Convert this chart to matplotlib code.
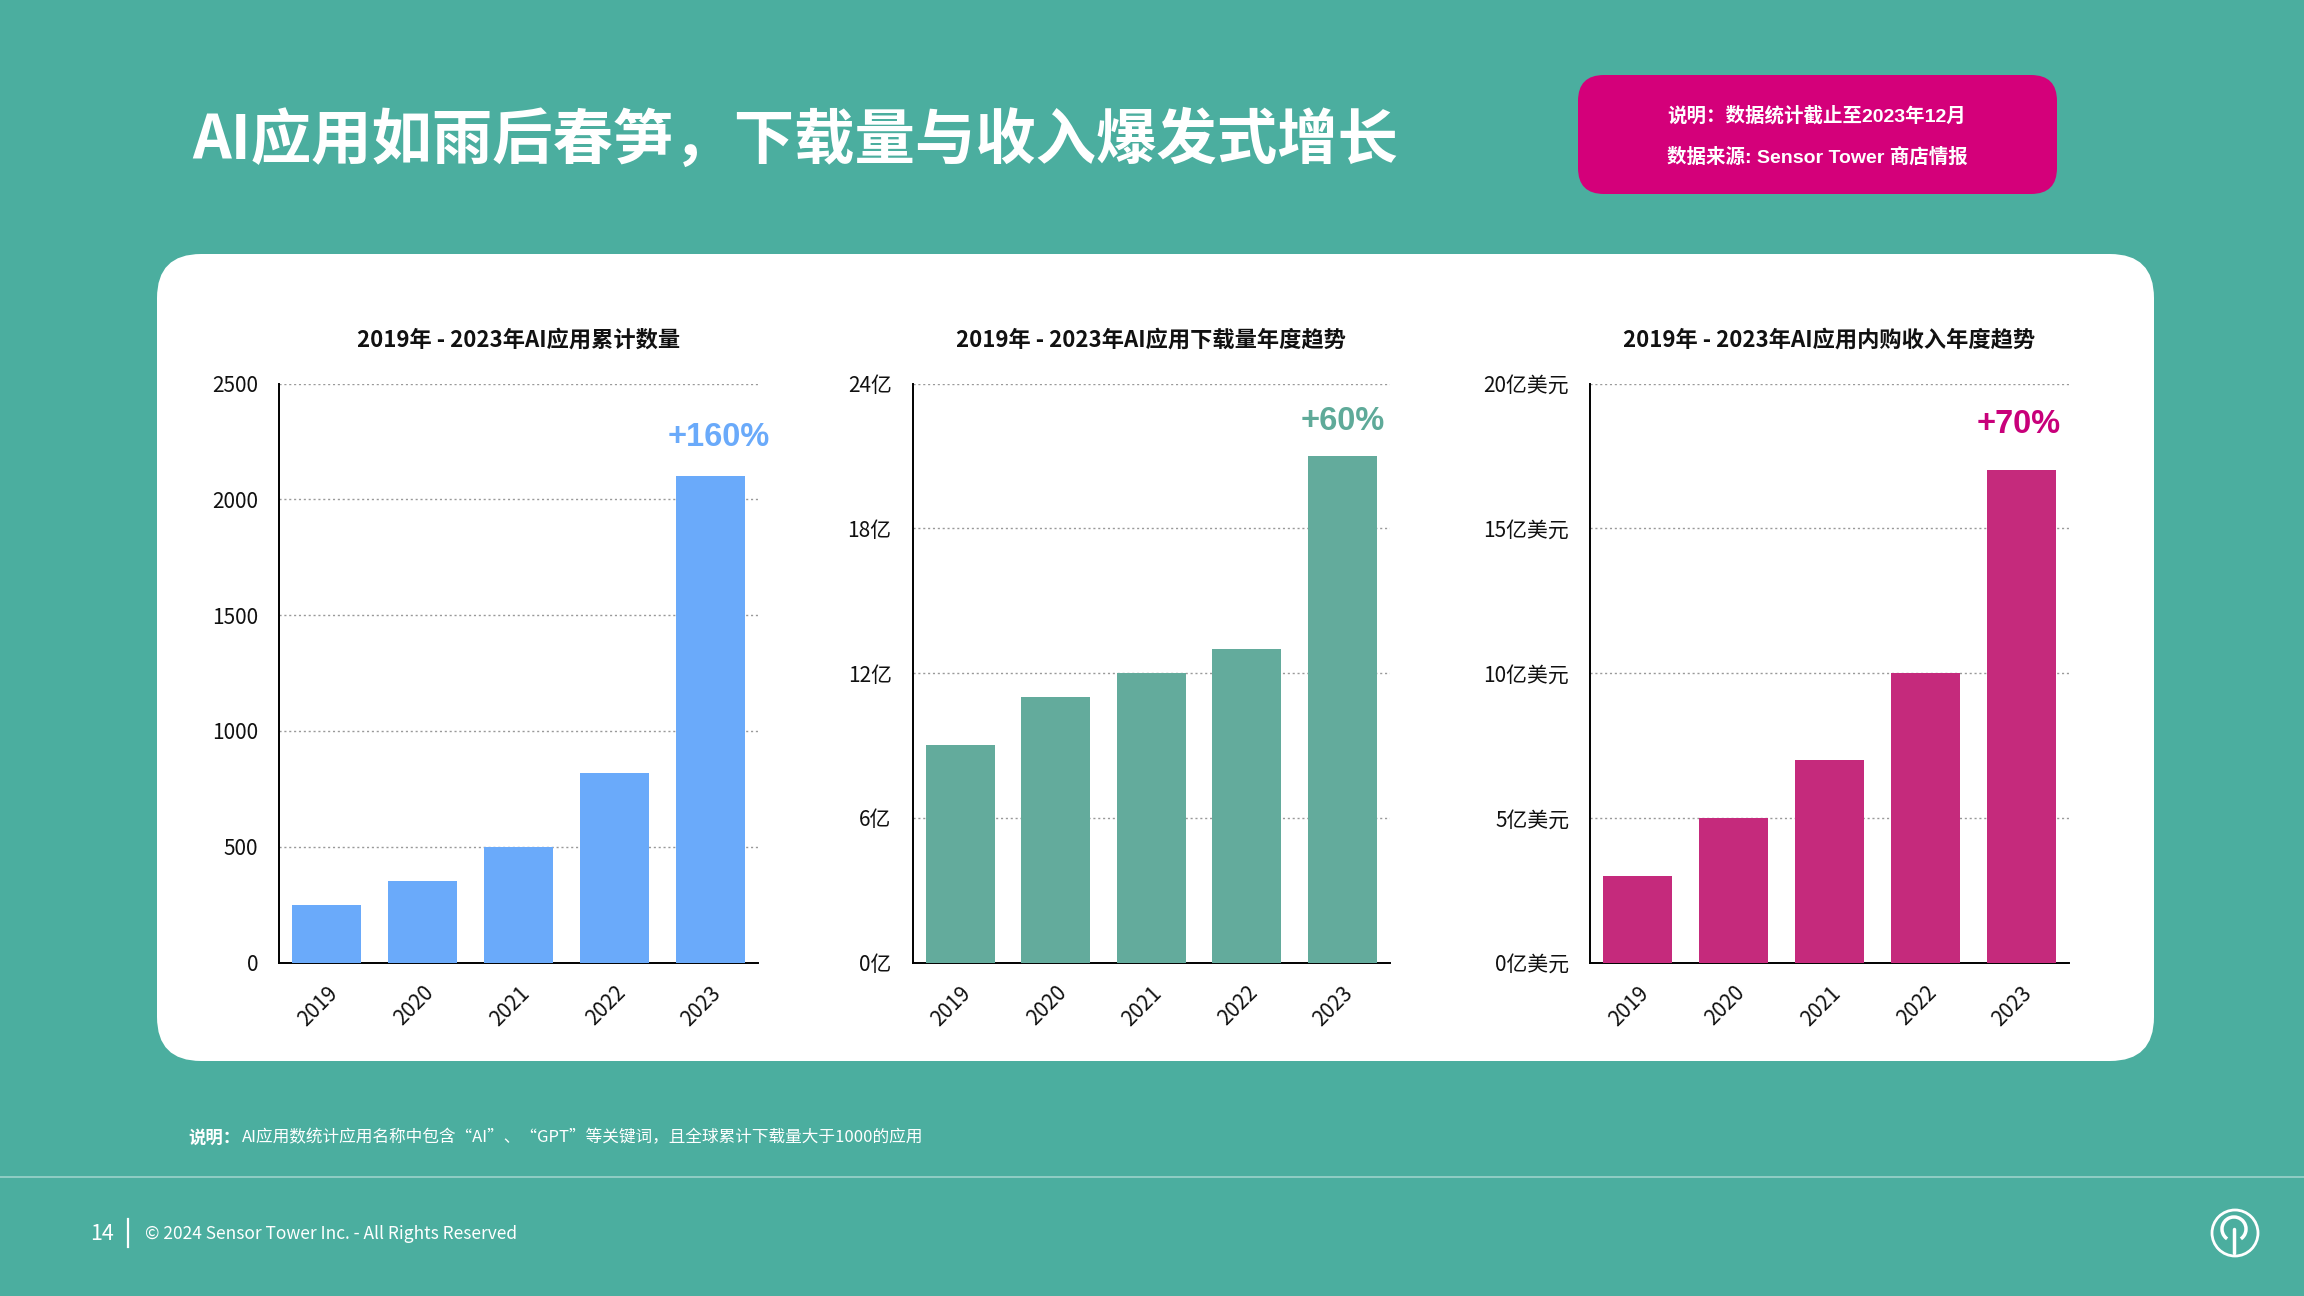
import matplotlib.pyplot as plt
from matplotlib.patches import FancyBboxPatch, Circle, Arc

plt.rcParams['font.family'] = ['Noto Sans CJK SC', 'DejaVu Sans']

# data
years = ['2019', '2020', '2021', '2022', '2023']
app_counts = [250, 350, 500, 820, 2100]      # AI apps, cumulative
downloads = [9, 11, 12, 13, 21]              # 亿
revenue = [3, 5, 7, 10, 17]                  # 亿美元

chart_titles = ['2019年 - 2023年AI应用累计数量',
                '2019年 - 2023年AI应用下载量年度趋势',
                '2019年 - 2023年AI应用内购收入年度趋势']
growth_labels = ['+160%', '+60%', '+70%']

count_ticks = [0, 500, 1000, 1500, 2000, 2500]
download_ticks = [0, 6, 12, 18, 24]
revenue_ticks = [0, 5, 10, 15, 20]
count_ticklabels = [str(t) for t in count_ticks]
download_ticklabels = [f'{t}亿' for t in download_ticks]
revenue_ticklabels = [f'{t}亿美元' for t in revenue_ticks]

W, H = 2304, 1296
TEAL = '#4BAE9F'
fig = plt.figure(figsize=(W / 100, H / 100), dpi=100)
fig.patch.set_facecolor(TEAL)

# background layer in pixel coords (y down)
bg = fig.add_axes([0, 0, 1, 1], zorder=0)
bg.set_xlim(0, W)
bg.set_ylim(H, 0)
bg.axis('off')

r = 44
bg.add_patch(FancyBboxPatch((157 + r, 254 + r), 1997 - 2 * r, 807 - 2 * r,
                            boxstyle=f'round,pad={r}', fc='white', ec='none'))
r2 = 26
bg.add_patch(FancyBboxPatch((1578 + r2, 75 + r2), 479 - 2 * r2, 119 - 2 * r2,
                            boxstyle=f'round,pad={r2}', fc='#D4007A', ec='none'))

bg.text(192, 141, 'AI应用如雨后春笋，下载量与收入爆发式增长', color='white',
        fontsize=43.5, fontweight='bold', ha='left', va='center')
box_font = ['Liberation Sans', 'Noto Sans CJK SC']
bg.text(1817, 116, '说明：数据统计截止至2023年12月', color='white', fontsize=14,
        fontweight='bold', ha='center', va='center', family=box_font)
bg.text(1817, 157, '数据来源: Sensor Tower 商店情报', color='white', fontsize=14,
        fontweight='bold', ha='center', va='center', family=box_font)

# footnote + footer
bg.text(188, 1138, '说明：', color='white', fontsize=12.5, fontweight='bold',
        ha='left', va='center')
bg.text(242, 1138, 'AI应用数统计应用名称中包含“AI”、“GPT”等关键词，且全球累计下载量大于1000的应用',
        color='white', fontsize=12, ha='left', va='center')
bg.plot([0, W], [1177, 1177], color='white', alpha=0.45, lw=1.2)
bg.text(90, 1234, '14', color='white', fontsize=15.5, ha='left', va='center')
bg.plot([128, 128], [1219, 1247], color='white', lw=1.6)
bg.text(145, 1234, '© 2024 Sensor Tower Inc. - All Rights Reserved', color='white',
        fontsize=12.5, ha='left', va='center')

# logo
bg.add_patch(Circle((2235, 1233), 23, fill=False, ec='white', lw=2))
bg.add_patch(Arc((2234, 1229), 24, 24, theta1=125, theta2=55, ec='white', lw=2.5))
bg.plot([2234, 2234], [1229, 1253], color='white', lw=2.5, solid_capstyle='round')


def draw_chart(x0, x1, values, color, ticks, ticklabels, title, label, label_color, offset):
    y0, y1 = 383.5, 962.5
    ax = fig.add_axes([x0 / W, 1 - y1 / H, (x1 - x0) / W, (y1 - y0) / H], zorder=2)
    ax.set_facecolor('none')
    pos = range(len(years))
    ax.bar(pos, values, width=0.72, color=color, zorder=3)
    ax.set_xlim(-0.5, len(years) - 0.5)
    ax.set_ylim(ticks[0], ticks[-1])
    ax.set_yticks(ticks, ticklabels)
    ax.set_xticks(list(pos), years, rotation=45, ha='right', va='top',
                  rotation_mode='anchor')
    ax.tick_params(axis='y', length=0, pad=15, labelsize=15, labelcolor='#111111')
    ax.tick_params(axis='x', length=0, pad=14, labelsize=15, labelcolor='#111111')
    ax.grid(axis='y', linestyle=(0, (1.5, 2)), color='#999999', lw=1, zorder=0)
    ax.set_axisbelow(True)
    for s in ['top', 'right']:
        ax.spines[s].set_visible(False)
    for s in ['left', 'bottom']:
        ax.spines[s].set_color('black')
        ax.spines[s].set_linewidth(1.4)
    ax.annotate(label, xy=(len(years) - 1, values[-1]), xytext=offset,
                textcoords='offset points', ha='center', va='center',
                fontsize=23.5, fontweight='bold', color=label_color,
                family=['Liberation Sans', 'DejaVu Sans'])
    bg.text((x0 + x1) / 2, 340, title, fontsize=16, fontweight='bold',
            ha='center', va='center', color='#111111')
    return ax


draw_chart(279, 758, app_counts, '#6AAAFA', count_ticks, count_ticklabels,
           chart_titles[0], growth_labels[0], '#6AAAFA', (6, 28))
draw_chart(912.5, 1390, downloads, '#63AB9C', download_ticks, download_ticklabels,
           chart_titles[1], growth_labels[1], '#5FAA99', (0, 25))
draw_chart(1590, 2069, revenue, '#C52A7C', revenue_ticks, revenue_ticklabels,
           chart_titles[2], growth_labels[2], '#C8007A', (-2, 33))

fig.savefig('out.png', dpi=100, facecolor=fig.get_facecolor())
